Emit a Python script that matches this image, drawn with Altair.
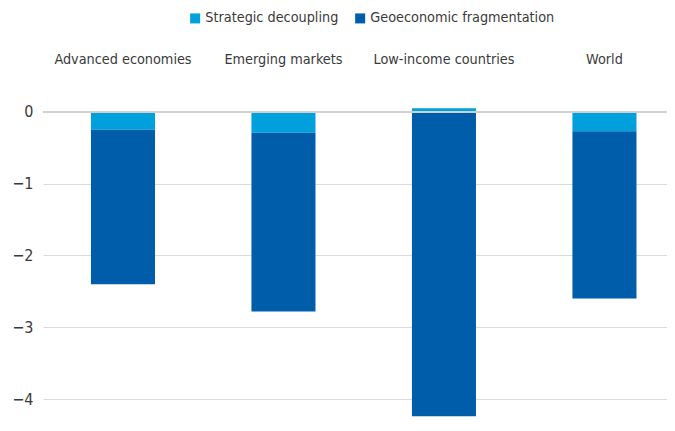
import altair as alt
import pandas as pd

categories = ["Advanced economies", "Emerging markets", "Low-income countries", "World"]
series = ["Strategic decoupling", "Geoeconomic fragmentation"]
strategic_decoupling = [-0.25, -0.29, 0.05, -0.27]
geoeconomic_fragmentation = [-2.15, -2.49, -4.24, -2.33]
colors = ["#00A0DC", "#005DAA"]

rows = []
for i, c in enumerate(categories):
    rows.append({"category": c, "series": series[0], "value": strategic_decoupling[i], "ord": 0})
    rows.append({"category": c, "series": series[1], "value": geoeconomic_fragmentation[i], "ord": 1})
df = pd.DataFrame(rows)

FONT = "DejaVu Sans Condensed, Roboto Condensed, Arial Narrow, sans-serif"

bars = alt.Chart(df).mark_bar().encode(
    x=alt.X("category:N", sort=categories, title=None,
            scale=alt.Scale(paddingInner=0.601, paddingOuter=0.2445, align=0.611),
            axis=alt.Axis(orient="top", ticks=False, domain=False, labelAngle=0,
                          labelFontSize=14.3, labelColor="#3a3a3a", labelFont=FONT,
                          labelPadding=10, grid=False, labelLimit=0)),
    y=alt.Y("value:Q", title=None, stack="zero",
            scale=alt.Scale(domain=[-4.25, 0.5], nice=False, zero=False),
            axis=alt.Axis(values=[-4, -3.5, -3, -2.5, -2, -1.5, -1, -0.5, 0, 0.5],
                          labelExpr="datum.value % 1 == 0 && datum.value <= 0 ? replace(format(datum.value, 'd'), '-', '\u2212') : ''",
                          ticks=False, domain=False, labelFontSize=16, labelColor="#3a3a3a",
                          labelFont=FONT, labelPadding=10, gridColor="#dcdcdc", gridWidth=1)),
    color=alt.Color("series:N", sort=series, title=None,
                    scale=alt.Scale(domain=series, range=colors),
                    legend=alt.Legend(orient="none", legendX=145, legendY=-65, direction="horizontal",
                                      symbolType="square", symbolSize=100, symbolStrokeWidth=0,
                                      labelFontSize=14.3, labelFont=FONT, labelColor="#3a3a3a",
                                      columnPadding=14, labelOffset=3, labelLimit=0)),
    order=alt.Order("ord:Q"),
)

zero = alt.Chart(df).mark_rule(color="#d0d0d0", strokeWidth=1.5).encode(y=alt.datum(0))

chart = alt.layer(bars, zero).properties(
    width=624, height=341,
    autosize=alt.AutoSizeParams(type="none"),
    padding={"left": 35, "top": 68, "right": 0, "bottom": 0},
).configure_view(stroke=None)

chart.save("out.html", embed_options={"renderer": "svg", "actions": False})
